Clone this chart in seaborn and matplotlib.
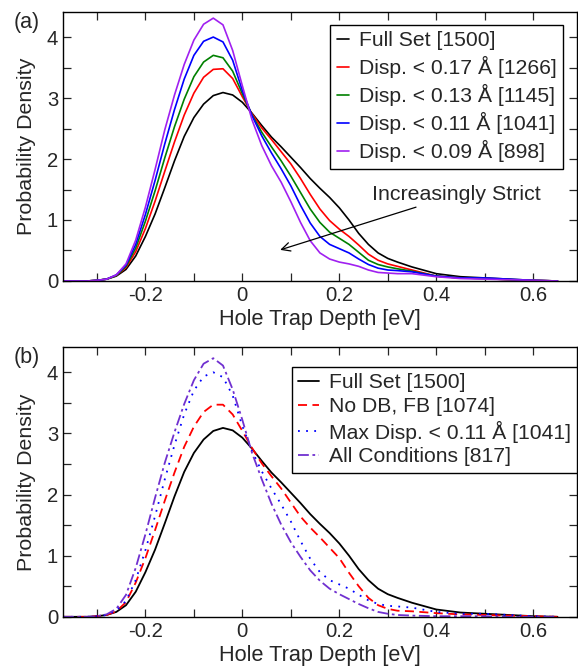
import numpy as np
import pandas as pd
import seaborn as sns
import matplotlib.pyplot as plt
from matplotlib.ticker import MultipleLocator

# x grid shared by every curve (eV)
depth = [-0.37, -0.32, -0.30, -0.28, -0.26, -0.24, -0.22, -0.20, -0.18, -0.16,
         -0.14, -0.12, -0.10, -0.08, -0.06, -0.04, -0.02, 0.00, 0.02, 0.04,
         0.06, 0.08, 0.10, 0.12, 0.14, 0.16, 0.18, 0.20, 0.22, 0.24,
         0.26, 0.28, 0.30, 0.32, 0.35, 0.40, 0.45, 0.50, 0.55, 0.60, 0.65]

# panel (a) curves
full_set = [0, 0, 0.01, 0.03, 0.08, 0.19, 0.41, 0.73, 1.10, 1.53,
            1.97, 2.37, 2.68, 2.90, 3.04, 3.09, 3.05, 2.93, 2.75, 2.55,
            2.36, 2.20, 2.03, 1.86, 1.68, 1.52, 1.37, 1.20, 1.00, 0.78,
            0.60, 0.46, 0.37, 0.31, 0.23, 0.12, 0.07, 0.05, 0.03, 0.01, 0]
disp_017 = [0, 0, 0.01, 0.03, 0.09, 0.22, 0.48, 0.86, 1.31, 1.80,
            2.28, 2.72, 3.08, 3.34, 3.47, 3.48, 3.32, 3.02, 2.74, 2.51,
            2.32, 2.12, 1.92, 1.68, 1.42, 1.18, 0.99, 0.85, 0.73, 0.59,
            0.44, 0.34, 0.28, 0.24, 0.18, 0.08, 0.05, 0.04, 0.02, 0.01, 0]
disp_013 = [0, 0, 0.01, 0.03, 0.09, 0.24, 0.54, 0.98, 1.48, 2.02,
            2.53, 2.98, 3.35, 3.59, 3.70, 3.66, 3.44, 3.07, 2.72, 2.44,
            2.20, 1.97, 1.72, 1.45, 1.18, 0.96, 0.80, 0.70, 0.60, 0.47,
            0.34, 0.27, 0.23, 0.20, 0.16, 0.08, 0.05, 0.04, 0.02, 0.01, 0]
disp_011 = [0, 0, 0.01, 0.03, 0.10, 0.26, 0.60, 1.09, 1.65, 2.25,
            2.81, 3.31, 3.70, 3.93, 4.00, 3.92, 3.62, 3.12, 2.71, 2.38,
            2.10, 1.84, 1.56, 1.24, 0.95, 0.73, 0.60, 0.53, 0.46, 0.36,
            0.27, 0.21, 0.18, 0.17, 0.15, 0.08, 0.05, 0.05, 0.03, 0.01, 0]
disp_009 = [0, 0, 0.01, 0.03, 0.10, 0.28, 0.67, 1.21, 1.83, 2.48,
            3.05, 3.55, 3.95, 4.21, 4.31, 4.20, 3.78, 3.20, 2.64, 2.22,
            1.89, 1.62, 1.30, 0.96, 0.66, 0.46, 0.36, 0.31, 0.28, 0.24,
            0.18, 0.14, 0.13, 0.12, 0.12, 0.07, 0.04, 0.03, 0.02, 0.01, 0]

# panel (b) curves (full set and max disp reuse the arrays above)
no_db_fb = [0, 0, 0.01, 0.03, 0.09, 0.24, 0.56, 0.96, 1.42, 1.90,
            2.36, 2.78, 3.11, 3.35, 3.47, 3.47, 3.31, 3.04, 2.76, 2.51,
            2.30, 2.10, 1.87, 1.64, 1.46, 1.30, 1.13, 0.96, 0.72, 0.50,
            0.31, 0.19, 0.13, 0.10, 0.09, 0.06, 0.04, 0.03, 0.02, 0.01, 0]
all_cond = [0, 0, 0.01, 0.04, 0.13, 0.36, 0.80, 1.35, 1.95, 2.52,
            3.02, 3.48, 3.87, 4.14, 4.23, 4.11, 3.72, 3.22, 2.68, 2.25,
            1.85, 1.51, 1.22, 0.98, 0.76, 0.59, 0.46, 0.37, 0.29, 0.21,
            0.14, 0.08, 0.05, 0.03, 0.02, 0.01, 0.01, 0.01, 0, 0, 0]

labels_a = ['Full Set [1500]', 'Disp. < 0.17 Å [1266]', 'Disp. < 0.13 Å [1145]',
            'Disp. < 0.11 Å [1041]', 'Disp. < 0.09 Å [898]']
labels_b = ['Full Set [1500]', 'No DB, FB [1074]', 'Max Disp. < 0.11 Å [1041]',
            'All Conditions [817]']

sns.set_style('ticks')
plt.rcParams['font.family'] = ['Liberation Sans', 'DejaVu Sans']

fig = plt.figure(figsize=(5.78, 6.69), dpi=100)
ax1 = fig.add_axes([0.109, 0.58, 0.889, 0.402])
ax2 = fig.add_axes([0.109, 0.078, 0.889, 0.403])

# (a)
colors_a = ['black', 'red', 'green', 'blue', '#a020f0']
for ys, lab, c in zip([full_set, disp_017, disp_013, disp_011, disp_009], labels_a, colors_a):
    sns.lineplot(x=depth, y=ys, ax=ax1, color=c, label=lab, linewidth=1.2)

ax1.annotate('Increasingly Strict', xy=(0.078, 0.51), xytext=(0.268, 1.42),
             fontsize=15.4, va='center',
             arrowprops=dict(arrowstyle='->', color='black', lw=0.9, shrinkA=0, shrinkB=0))

# (b)
styles_b = [('black', '-'), ('red', (0, (5, 3))), ('blue', (0, (1, 3.5))),
            ('#7030d0', (0, (6, 2, 1.5, 2)))]
for ys, lab, (c, ls) in zip([full_set, no_db_fb, disp_011, all_cond], labels_b, styles_b):
    sns.lineplot(x=depth, y=ys, ax=ax2, color=c, label=lab, linewidth=1.3, linestyle=ls)

for ax, tag in [(ax1, '(a)'), (ax2, '(b)')]:
    ax.set_xlim(-0.37, 0.69)
    ax.set_ylim(0, 4.41)
    ax.set_xticks([-0.2, 0, 0.2, 0.4, 0.6])
    ax.set_xticklabels(['-0.2', '0', '0.2', '0.4', '0.6'])
    ax.set_yticks([0, 1, 2, 3, 4])
    ax.set_yticklabels(['0', '1', '2', '3', '4'])
    ax.xaxis.set_minor_locator(MultipleLocator(0.1))
    ax.yaxis.set_minor_locator(MultipleLocator(0.5))
    ax.tick_params(which='both', direction='in', top=True, right=True, labelsize=14.6,
                   length=6, width=0.9)
    ax.set_xlabel('Hole Trap Depth [eV]', fontsize=15.6, labelpad=3)
    ax.set_ylabel('Probability Density', fontsize=15.4, labelpad=8)
    for s in ax.spines.values():
        s.set_linewidth(1.0)
        s.set_color('black')
    ax.text(-0.097, 0.962, tag, transform=ax.transAxes, fontsize=15.5, va='center')

leg1 = ax1.legend(loc='upper right', bbox_to_anchor=(0.973, 0.952), fontsize=15.2,
                  handlelength=0.6, handletextpad=0.45, borderpad=0.3, labelspacing=0.28,
                  borderaxespad=0, fancybox=False, framealpha=1, edgecolor='black')
leg1.get_frame().set_linewidth(1.0)
leg2 = ax2.legend(loc='upper right', bbox_to_anchor=(1.0, 0.926), fontsize=15.2,
                  handlelength=1.0, handletextpad=0.45, borderpad=0.3, labelspacing=0.22,
                  borderaxespad=0, fancybox=False, framealpha=1, edgecolor='black')
leg2.get_frame().set_linewidth(1.0)

fig.savefig('out.png', dpi=100)
